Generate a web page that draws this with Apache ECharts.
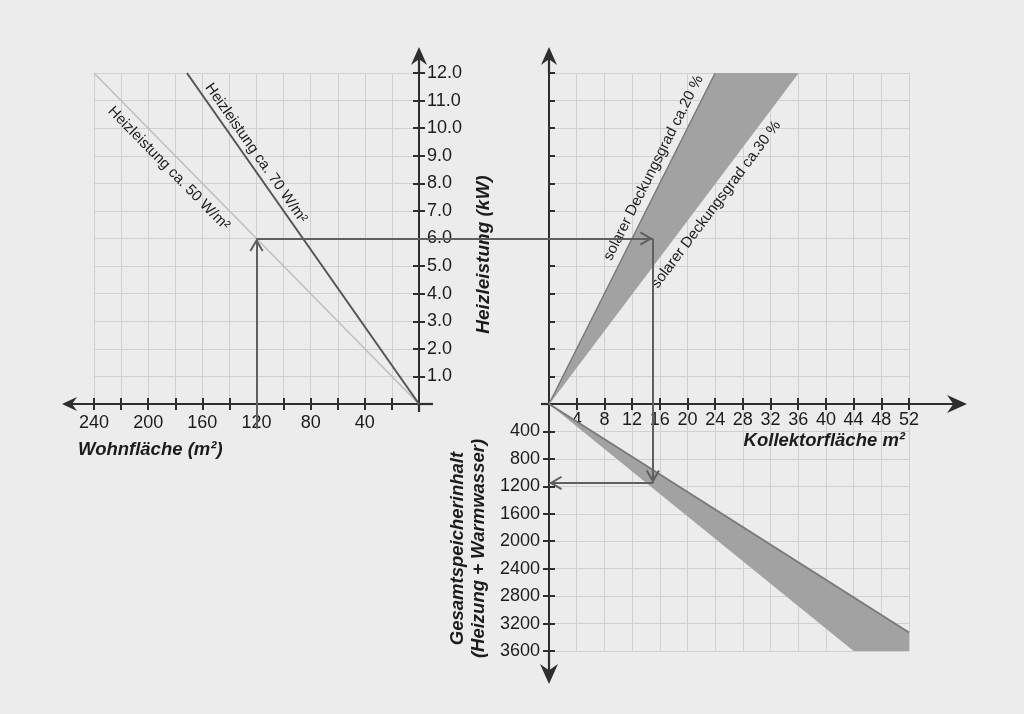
<!DOCTYPE html>
<html><head><meta charset="utf-8">
<script src="https://cdn.jsdelivr.net/npm/echarts@6/dist/echarts.min.js"></script>
<style>html,body{margin:0;padding:0;background:#ececec}#c{width:1024px;height:714px}</style>
</head><body><div id="c"></div>
<script>
// ---------------- data ----------------
// left panel: Wohnfläche (m²) -> Heizleistung (kW)
const heiz50 = [[240, 12], [0, 0]];      // ca. 50 W/m²
const heiz70 = [[171.4, 12], [0, 0]];    // ca. 70 W/m²
// right top: Kollektorfläche (m²) vs Heizleistung (kW)
const deckung20 = [[0, 0], [24, 12]];    // solarer Deckungsgrad ca. 20 %
const deckung30 = [[0, 0], [36, 12]];    // solarer Deckungsgrad ca. 30 %
// right bottom: Kollektorfläche (m²) vs Gesamtspeicherinhalt (l)
const speicherOben = [[0, 0], [52, 3330]];
const speicherUnten = [[0, 0], [52, 4255]];
// example reading path
const beispielWohn = 120, beispielHeiz = 6, beispielKollektor = 15, beispielSpeicher = 1150;
const beispielStartHeiz = -0.9;
const lineLabels = ['Heizleistung ca. 50 W/m²', 'Heizleistung ca. 70 W/m²',
                    'solarer Deckungsgrad ca.20 %', 'solarer Deckungsgrad ca.30 %'];
const axisNames = ['Wohnfläche (m²)', 'Heizleistung (kW)', 'Kollektorfläche m²',
                   'Gesamtspeicherinhalt\n(Heizung + Warmwasser)'];
const wohnRange = [0, 240, 20], heizRange = [0, 12, 1], kollRange = [0, 52, 4], speicherRange = [0, 3600, 400];

// ---------------- styling ----------------
const FONT = '"Liberation Sans", Arial, sans-serif';
const AXC = '#2e2e2e', GRIDC = '#d0d0d0', TEXT = '#1c1c1c';
const FILL = '#a2a2a2', EDGE = '#7a7a7a', ARROW = '#5f5f5f';

function arrowSym(L, head, hw) {
  const c = hw / 2, s = 1.1, n = head * 0.72;
  return `path://M${c},${2 * L} M${c},0 L${hw},${head} L${c + s},${n} L${c + s},${L} L${c - s},${L} L${c - s},${n} L0,${head} Z`;
}
function stemSym(L, ext, hw) {
  const c = hw / 2;
  return `path://M0,0 M${hw},${2 * L} M${c - 1.1},${L - ext} L${c + 1.1},${L - ext} L${c + 1.1},${L} L${c - 1.1},${L} Z`;
}
const CHEV = 'path://M13,0 M0,13 M26,13 M13,13 L20,25 L18.3,26 L13,17 L7.7,26 L6,25 Z';

const axLine = (sym, size) => ({ show: true, onZero: false, lineStyle: { color: AXC, width: 2 }, symbol: sym, symbolSize: size });
const tick = (inside, len) => ({ show: true, inside: inside, length: len, lineStyle: { color: AXC, width: 2 } });
const lab = (fmt, margin) => ({ show: true, formatter: fmt, fontSize: 18, color: TEXT, fontFamily: FONT, margin: margin, showMinLabel: true });
const split = { show: true, lineStyle: { color: GRIDC, width: 1 } };
const noSplit = { show: false };
const titleStyle = (size) => ({ fontSize: size, fontWeight: 'bold', fontStyle: 'italic', color: TEXT, fontFamily: FONT });

function polyRender(poly) {
  return function (params, api) {
    if (params.dataIndex !== 0) return null;
    return { type: 'polygon', shape: { points: poly.map(p => api.coord(p)) }, style: { fill: FILL } };
  };
}
const wedgePoly = [deckung20[0], deckung20[1], deckung30[1]];
const bandPoly = [speicherOben[0], speicherOben[1], speicherUnten[1]];

const lineLabel = (text, pos, dist) => ({ show: true, position: pos, distance: dist, formatter: text,
  fontSize: 15, color: TEXT, fontFamily: FONT });

const option = {
  animation: false,
  backgroundColor: '#ececec',
  title: [
    { text: axisNames[0], left: 78, top: 440, padding: 0, textStyle: titleStyle(18.5) },
    { text: axisNames[2], right: 119, top: 431, padding: 0, textStyle: titleStyle(18.5) }
  ],
  grid: [
    { left: 94, top: 73, width: 325, height: 331, outerBoundsMode: 'none' },
    { left: 549, top: 73, width: 360, height: 331, outerBoundsMode: 'none' },
    { left: 549, top: 404, width: 360, height: 247, outerBoundsMode: 'none' }
  ],
  xAxis: [
    { gridIndex: 0, type: 'value', inverse: true, min: wohnRange[0], max: wohnRange[1], interval: wohnRange[2], position: 'bottom',
      axisLine: axLine([arrowSym(32, 15, 14), stemSym(32, 14, 14)], [14, 64]),
      axisTick: tick(false, 6),
      axisLabel: lab(v => (v % 40 === 0 && v !== 0) ? String(v) : '', 10),
      splitLine: split },
    { gridIndex: 0, type: 'value', inverse: true, min: wohnRange[0], max: wohnRange[1], interval: wohnRange[2], position: 'bottom',
      axisLine: { show: false, onZero: false }, axisTick: tick(true, 6), axisLabel: { show: false }, splitLine: noSplit },
    { gridIndex: 1, type: 'value', min: kollRange[0], max: kollRange[1], interval: kollRange[2], position: 'bottom',
      axisLine: axLine([stemSym(58, 8, 18), arrowSym(58, 20, 18)], [18, 116]),
      axisTick: tick(true, 6),
      axisLabel: lab(v => v === 0 ? '' : String(v), 7),
      splitLine: split },
    { gridIndex: 2, type: 'value', min: kollRange[0], max: kollRange[1], interval: kollRange[2], position: 'top',
      axisLine: { show: false, onZero: false }, axisTick: tick(true, 6), axisLabel: { show: false }, splitLine: split }
  ],
  yAxis: [
    { gridIndex: 0, type: 'value', min: heizRange[0], max: heizRange[1], interval: heizRange[2], position: 'right',
      axisLine: axLine([stemSym(26, 8, 16), arrowSym(26, 18, 16)], [16, 52]),
      axisTick: tick(false, 6),
      axisLabel: lab(v => v === 0 ? '' : v.toFixed(1), 8),
      splitLine: split,
      name: axisNames[1], nameLocation: 'middle', nameRotate: 90, nameGap: 55,
      nameTextStyle: Object.assign(titleStyle(19), { padding: [0, 32, 0, 0] }) },
    { gridIndex: 0, type: 'value', min: heizRange[0], max: heizRange[1], interval: heizRange[2], position: 'right',
      axisLine: { show: false, onZero: false }, axisTick: tick(true, 6), axisLabel: { show: false }, splitLine: noSplit },
    { gridIndex: 1, type: 'value', min: heizRange[0], max: heizRange[1], interval: heizRange[2], position: 'left',
      axisLine: axLine(['none', arrowSym(26, 18, 16)], [16, 52]),
      axisTick: tick(true, 6), axisLabel: { show: false }, splitLine: split },
    { gridIndex: 2, type: 'value', inverse: true, min: speicherRange[0], max: speicherRange[1], interval: speicherRange[2], position: 'left',
      axisLine: axLine([arrowSym(33, 20, 18), 'none'], [18, 66]),
      axisTick: tick(false, 6),
      axisLabel: lab(v => v === 0 ? '' : String(v), 9),
      splitLine: split,
      name: axisNames[3], nameLocation: 'middle', nameRotate: 90, nameGap: 60,
      nameTextStyle: Object.assign(titleStyle(18.5), { lineHeight: 21, padding: [0, 42, 0, 0] }) },
    { gridIndex: 2, type: 'value', inverse: true, min: speicherRange[0], max: speicherRange[1], interval: speicherRange[2], position: 'left',
      axisLine: { show: false, onZero: false }, axisTick: tick(true, 6), axisLabel: { show: false }, splitLine: noSplit }
  ],
  series: [
    { type: 'custom', id: 'wedge', xAxisIndex: 2, yAxisIndex: 2, clip: true, silent: true, z: 1,
      data: wedgePoly, renderItem: polyRender(wedgePoly) },
    { type: 'custom', id: 'band', xAxisIndex: 3, yAxisIndex: 3, clip: true, silent: true, z: 1,
      data: bandPoly, renderItem: polyRender(bandPoly) },
    { type: 'lines', id: 'h50', coordinateSystem: 'cartesian2d', xAxisIndex: 0, yAxisIndex: 0, silent: true, z: 3,
      lineStyle: { color: '#bebebe', width: 1.5, opacity: 1 },
      label: lineLabel(lineLabels[0], 'insideStartBottom', [37, 6]),
      data: [{ coords: heiz50 }] },
    { type: 'lines', id: 'h70', coordinateSystem: 'cartesian2d', xAxisIndex: 0, yAxisIndex: 0, silent: true, z: 3,
      lineStyle: { color: '#555555', width: 2, opacity: 1 },
      label: lineLabel(lineLabels[1], 'insideStartTop', [22, 3]),
      data: [{ coords: heiz70 }] },
    { type: 'lines', id: 'd20', coordinateSystem: 'cartesian2d', xAxisIndex: 2, yAxisIndex: 2, silent: true, z: 3,
      lineStyle: { color: EDGE, width: 1.5, opacity: 1 },
      label: lineLabel(lineLabels[2], 'insideEndTop', [10, 5]),
      data: [{ coords: deckung20 }] },
    { type: 'lines', id: 'd30', coordinateSystem: 'cartesian2d', xAxisIndex: 2, yAxisIndex: 2, silent: true, z: 3,
      lineStyle: { color: FILL, width: 1, opacity: 1 },
      label: lineLabel(lineLabels[3], 'insideEndBottom', [52, 6]),
      data: [{ coords: deckung30 }] },
    { type: 'lines', id: 'sOben', coordinateSystem: 'cartesian2d', xAxisIndex: 3, yAxisIndex: 3, silent: true, z: 3,
      lineStyle: { color: EDGE, width: 2, opacity: 1 },
      data: [{ coords: speicherOben }] },
    // example path arrows
    { type: 'lines', id: 'aUp', coordinateSystem: 'cartesian2d', xAxisIndex: 0, yAxisIndex: 0, clip: false, silent: true, z: 4,
      symbol: ['none', CHEV], symbolSize: 26, lineStyle: { color: ARROW, width: 2, opacity: 1 },
      data: [{ coords: [[beispielWohn, beispielStartHeiz], [beispielWohn, beispielHeiz]] }] },
    { type: 'lines', id: 'aH', coordinateSystem: 'cartesian2d', xAxisIndex: 2, yAxisIndex: 2, clip: false, silent: true, z: 4,
      symbol: ['none', CHEV], symbolSize: 26, lineStyle: { color: ARROW, width: 2, opacity: 1 },
      data: [] },
    { type: 'lines', id: 'aV1', coordinateSystem: 'cartesian2d', xAxisIndex: 2, yAxisIndex: 2, clip: false, silent: true, z: 4,
      symbol: 'none', lineStyle: { color: ARROW, width: 2, opacity: 1 },
      data: [{ coords: [[beispielKollektor, beispielHeiz], [beispielKollektor, 0]] }] },
    { type: 'lines', id: 'aV2', coordinateSystem: 'cartesian2d', xAxisIndex: 3, yAxisIndex: 3, clip: false, silent: true, z: 4,
      symbol: ['none', CHEV], symbolSize: 26, lineStyle: { color: ARROW, width: 2, opacity: 1 },
      data: [{ coords: [[beispielKollektor, 0], [beispielKollektor, beispielSpeicher]] }] },
    { type: 'lines', id: 'aL', coordinateSystem: 'cartesian2d', xAxisIndex: 3, yAxisIndex: 3, clip: false, silent: true, z: 4,
      symbol: ['none', CHEV], symbolSize: 26, lineStyle: { color: ARROW, width: 2, opacity: 1 },
      data: [{ coords: [[beispielKollektor, beispielSpeicher], [0, beispielSpeicher]] }] }
  ]
};

const chart = echarts.init(document.getElementById('c'), null, { renderer: 'canvas' });
chart.setOption(option);
// horizontal example line starts at the point of the left panel: convert through the library scales
const px = chart.convertToPixel({ xAxisIndex: 0, yAxisIndex: 0 }, [beispielWohn, beispielHeiz]);
const inRight = chart.convertFromPixel({ xAxisIndex: 2, yAxisIndex: 2 }, px);
chart.setOption({ series: [{ id: 'aH', data: [{ coords: [[inRight[0], beispielHeiz], [beispielKollektor, beispielHeiz]] }] }] });
</script>
</body></html>
